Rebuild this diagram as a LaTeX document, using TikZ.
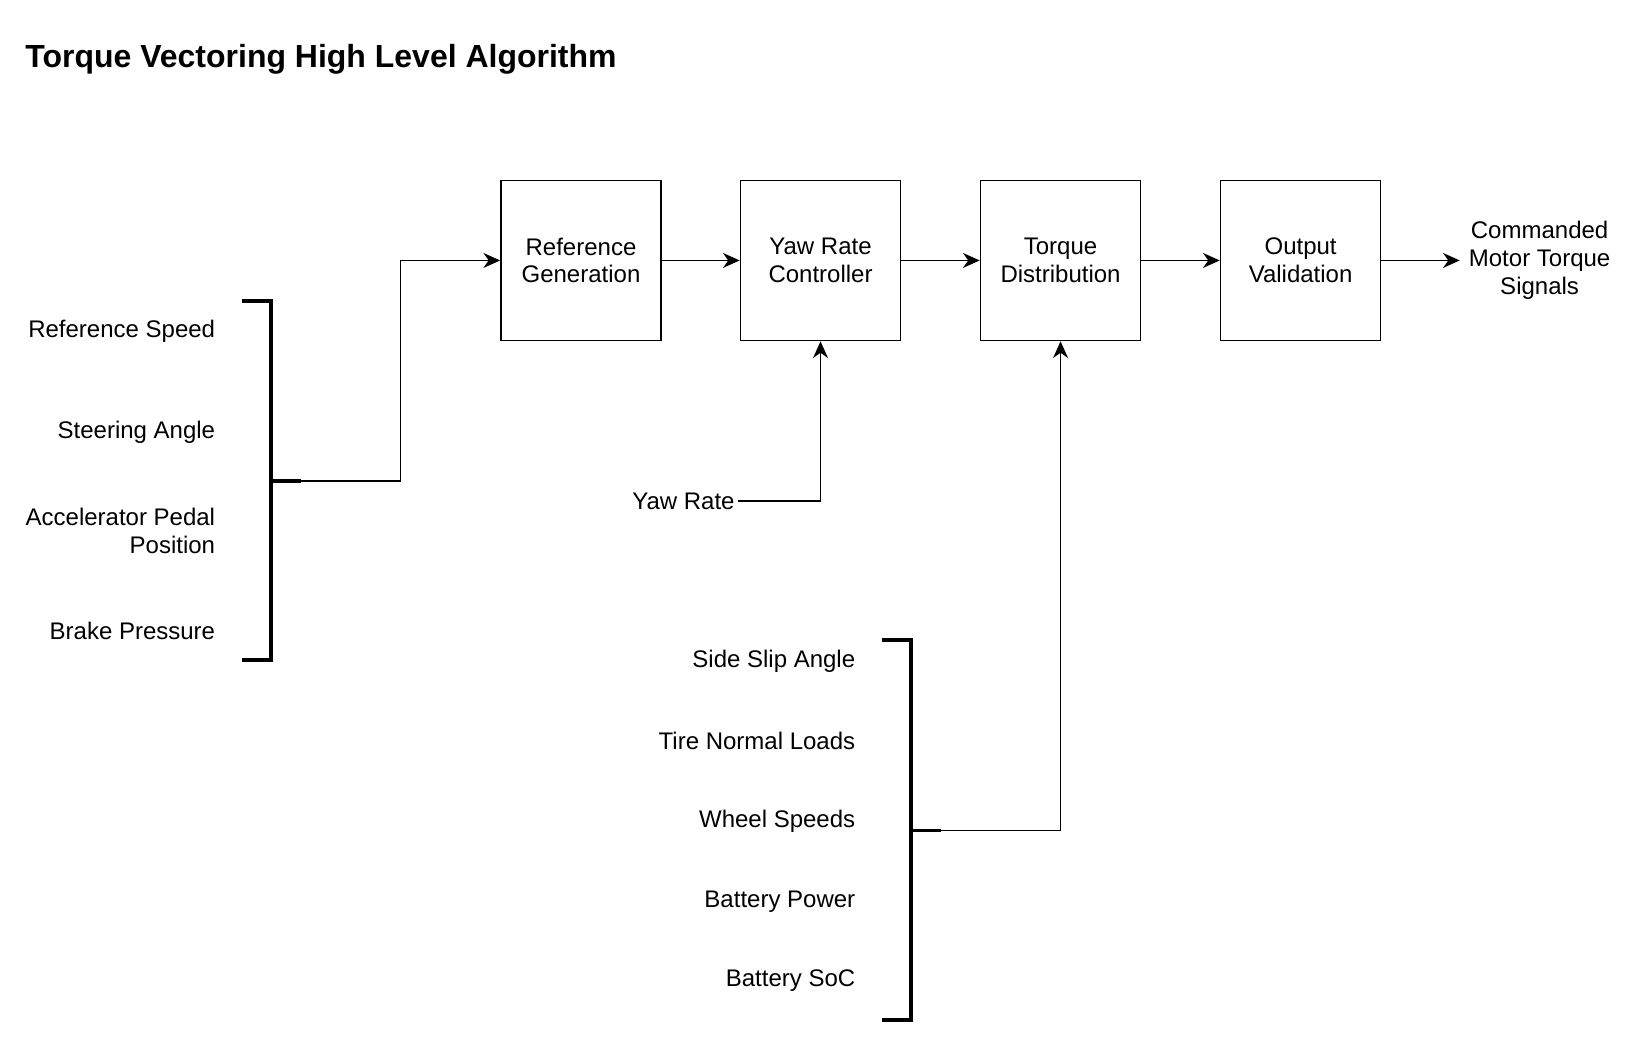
\documentclass[tikz,border=0pt]{standalone}
\usepackage{fontspec}
\setmainfont{Liberation Sans}
\usetikzlibrary{positioning,arrows.meta}

\tikzset{
	block/.style={draw, line width=1pt, minimum width=3.2cm, minimum height=3.2cm, align=center, inner sep=0pt, font=\fontsize{13.66pt}{15.9pt}\selectfont},
	sig/.style={inner sep=0pt, align=right, font=\fontsize{13.66pt}{15.9pt}\selectfont},
	bracket/.style={line width=2.2pt},
	wire/.style={line width=1pt, -{Stealth[length=9.5pt, width=8.5pt, inset=3pt]}}
}

\begin{document}
\begin{tikzpicture}[x=0.020918cm, y=-0.020918cm]
	\useasboundingbox (0,0) rectangle (1568,996.3);

	% Title:
	\node[anchor=west, inner sep=0pt, font=\fontsize{18.2pt}{21pt}\selectfont\bfseries] (title) at (24,57) {Torque Vectoring High Level Algorithm};

	% Blocks:
	\node[block] (refgen) at (555.5,249) {Reference\\Generation};
	\node[block] (yawctrl) at (784.5,249) {Yaw Rate\\Controller};
	\node[block] (torqdist) at (1014,249) {Torque\\Distribution};
	\node[block] (outval) at (1243.5,249) {Output\\Validation};

	% Driver inputs:
	\node[sig, anchor=east] (refspeed) at (206,317) {Reference Speed};
	\node[sig, anchor=east] (steer) at (206,413) {Steering Angle};
	\node[sig, anchor=east] (pedal) at (206,508) {Accelerator Pedal\\Position};
	\node[sig, anchor=east] (brake) at (206,603) {Brake Pressure};

	% Vehicle states:
	\node[sig, anchor=east] (slip) at (818,632) {Side Slip Angle};
	\node[sig, anchor=east] (loads) at (818,708) {Tire Normal Loads};
	\node[sig, anchor=east] (wheels) at (818,785) {Wheel Speeds};
	\node[sig, anchor=east] (battpow) at (818,862) {Battery Power};
	\node[sig, anchor=east] (battsoc) at (818,938) {Battery SoC};

	\node[sig, anchor=east, inner xsep=2pt] (yawrate) at (706,479) {Yaw Rate};
	\node[sig, align=center, inner xsep=5pt] (cmdtorque) at (1472,249) {Commanded\\Motor Torque\\Signals};

	% Brackets:
	\draw[bracket] (231,288) -| (259,631) -- (231,631);
	\draw[bracket] (259,460) -- (288,460) coordinate (drvin);
	\draw[bracket] (843,612) -| (871,975) -- (843,975);
	\draw[bracket] (871,794) -- (900,794) coordinate (vehin);

	% Lines:
	\draw[wire] (drvin) -- (383,460) |- (refgen.west);
	\draw[wire] (refgen) -- (yawctrl);
	\draw[wire] (yawctrl) -- (torqdist);
	\draw[wire] (torqdist) -- (outval);
	\draw[wire] (outval) -- (cmdtorque.west);
	\draw[wire] (yawrate.east) -| (yawctrl.south);
	\draw[wire] (vehin) -| (torqdist.south);

\end{tikzpicture}
\end{document}
